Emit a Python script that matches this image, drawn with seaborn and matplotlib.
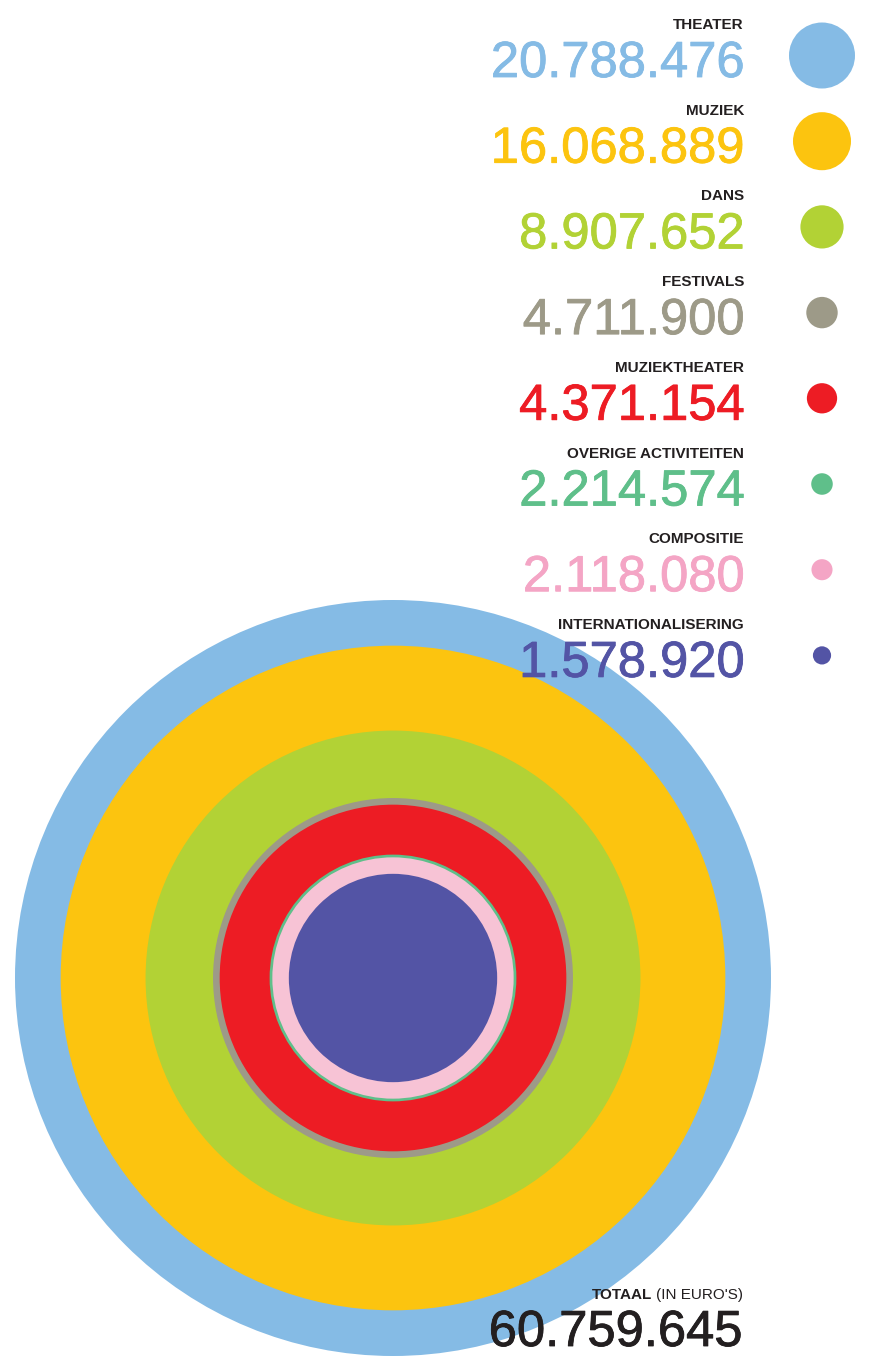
import pandas as pd
import numpy as np
import matplotlib
matplotlib.use('Agg')
import matplotlib.pyplot as plt
import matplotlib.patheffects as pe
import seaborn as sns

# Data
categorieen = ['THEATER', 'MUZIEK', 'DANS', 'FESTIVALS', 'MUZIEKTHEATER',
               'OVERIGE ACTIVITEITEN', 'COMPOSITIE', 'INTERNATIONALISERING']
bedragen = [20788476, 16068889, 8907652, 4711900, 4371154, 2214574, 2118080, 1578920]
totaal = 60759645
kleuren = ['#85bbe5', '#fcc40f', '#b2d235', '#9d9a88', '#ed1c24', '#5fbf8a', '#f4a5c5', '#5354a5']
cirkel_kleuren = ['#85bbe5', '#fcc40f', '#b2d235', '#9d9a88', '#ed1c24', '#5fbf8a', '#f7c3d5', '#5354a5']


def fmt(v):
    return f'{v:,}'.replace(',', '.')


W, H, DPI = 878, 1357, 100
sns.set_theme(style='white')
plt.rcParams['font.family'] = ['Liberation Sans', 'DejaVu Sans']

fig = plt.figure(figsize=(W / DPI, H / DPI), dpi=DPI)
ax = fig.add_axes([0, 0, 1, 1])
ax.set_xlim(0, W)
ax.set_ylim(H, 0)
ax.axis('off')

px = 72 / DPI  # points per pixel
vmax = max(bedragen)

# big concentric circles, area proportional to amount
df = pd.DataFrame({'categorie': categorieen, 'bedrag': bedragen})
df['x'] = 393
df['y'] = 978
big_d = 756 * px
sns.scatterplot(data=df, x='x', y='y', size='bedrag', sizes=(0, big_d ** 2),
                size_norm=(0, vmax), hue='categorie',
                palette=dict(zip(categorieen, cirkel_kleuren)),
                linewidth=0, legend=False, ax=ax, zorder=1)

# legend dots on the right
step = 85.7
df_leg = df.copy()
df_leg['x'] = 822
df_leg['y'] = 55.5 + step * np.arange(len(df))
small_d = 66 * px
sns.scatterplot(data=df_leg, x='x', y='y', size='bedrag', sizes=(0, small_d ** 2),
                size_norm=(0, vmax), hue='categorie',
                palette=dict(zip(categorieen, kleuren)),
                linewidth=0, legend=False, ax=ax, zorder=2)


def dik(col):
    # thicken the regular weight a little (medium look)
    return [pe.withStroke(linewidth=0.6, foreground=col)]


tekst = '#231f20'
for i, (cat, val, col) in enumerate(zip(categorieen, bedragen, kleuren)):
    ax.text(744, 29 + step * i, cat, ha='right', va='baseline', fontsize=11,
            fontweight='bold', color=tekst, zorder=3)
    ax.text(745, 77 + step * i, fmt(val), ha='right', va='baseline', fontsize=36.5,
            color=col, zorder=3, path_effects=dik(col))

# total
t2 = ax.text(743, 1299, "(IN EURO'S)", ha='right', va='baseline', fontsize=11,
             color=tekst, zorder=3)
fig.canvas.draw()
bb = t2.get_window_extent()
x0 = ax.transData.inverted().transform((bb.x0, bb.y0))[0]
ax.text(x0 - 4, 1299, 'TOTAAL', ha='right', va='baseline', fontsize=11,
        fontweight='bold', color=tekst, zorder=3)
ax.text(743, 1346, fmt(totaal), ha='right', va='baseline', fontsize=36.5,
        color=tekst, zorder=3, path_effects=dik(tekst))

fig.savefig('out.png', dpi=DPI, facecolor='white')
